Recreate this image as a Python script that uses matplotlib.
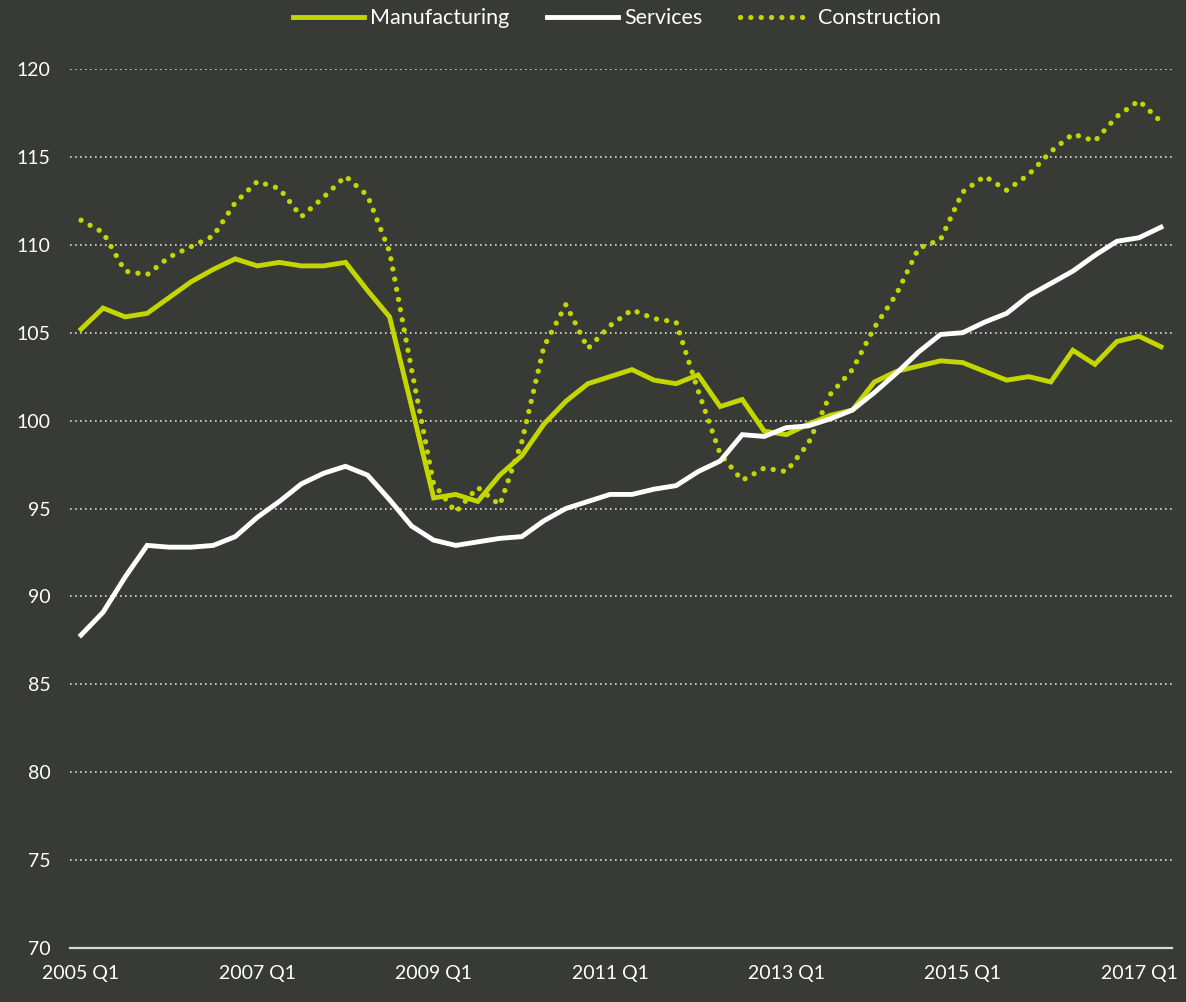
import matplotlib
matplotlib.use('Agg')

import matplotlib.pyplot as plt

# === Data: quarterly index values, 2005 Q1 - 2017 Q2 ===
quarters = [f"{y} Q{q}" for y in range(2005, 2018) for q in range(1, 5)][:50]

manufacturing = [
    105.2, 106.4, 105.9, 106.1, 107.0, 107.9, 108.6, 109.2, 108.8, 109.0,
    108.8, 108.8, 109.0, 107.4, 105.9, 100.8, 95.6, 95.8, 95.4, 96.9,
    98.0, 99.8, 101.1, 102.1, 102.5, 102.9, 102.3, 102.1, 102.6, 100.8,
    101.2, 99.4, 99.2, 99.8, 100.3, 100.6, 102.2, 102.8, 103.1, 103.4,
    103.3, 102.8, 102.3, 102.5, 102.2, 104.0, 103.2, 104.5, 104.8, 104.2,
]

services = [
    87.8, 89.1, 91.1, 92.9, 92.8, 92.8, 92.9, 93.4, 94.5, 95.4,
    96.4, 97.0, 97.4, 96.9, 95.5, 94.0, 93.2, 92.9, 93.1, 93.3,
    93.4, 94.3, 95.0, 95.4, 95.8, 95.8, 96.1, 96.3, 97.1, 97.7,
    99.2, 99.1, 99.6, 99.7, 100.1, 100.6, 101.6, 102.7, 103.9, 104.9,
    105.0, 105.6, 106.1, 107.1, 107.8, 108.5, 109.4, 110.2, 110.4, 111.0,
]

construction = [
    111.4, 110.7, 108.5, 108.3, 109.3, 109.9, 110.5, 112.4, 113.6, 113.2,
    111.6, 112.7, 113.9, 112.8, 109.6, 102.9, 96.4, 94.8, 96.2, 95.2,
    98.8, 104.2, 106.6, 104.1, 105.4, 106.3, 105.8, 105.6, 101.7, 98.1,
    96.6, 97.3, 97.1, 98.7, 101.5, 102.9, 105.3, 107.2, 109.8, 110.3,
    113.0, 113.9, 113.1, 114.0, 115.3, 116.3, 115.9, 117.3, 118.2, 117.0,
]

tick_every = 8

# === Style ===
bg = "#383a35"
lime = "#c4d600"
white = "#ffffff"
grey = "#d9d9d9"

plt.rcParams['font.family'] = ['Lato', 'DejaVu Sans']
plt.rcParams['font.size'] = 14

fig = plt.figure(figsize=(11.86, 10.02), dpi=100, facecolor=bg)
ax = fig.add_axes([70 / 1186, 1 - 948 / 1002, 1102 / 1186, (948 - 69) / 1002])
ax.set_facecolor(bg)

x = list(range(len(quarters)))
ax.plot(x, manufacturing, color=lime, lw=3.5, label="Manufacturing",
        solid_joinstyle='miter', zorder=3)
ax.plot(x, services, color=white, lw=3.5, label="Services",
        solid_joinstyle='miter', zorder=4)
ax.plot(x, construction, color=lime, lw=3.8, label="Construction",
        linestyle=(0, (0.01, 1.95)), dash_capstyle='round', zorder=2)

ax.set_xlim(-0.5, len(quarters) - 0.5)
ax.set_ylim(70, 120)
ax.set_yticks(range(70, 121, 5))
ax.set_xticks(x[::tick_every])
ax.set_xticklabels(quarters[::tick_every])

# dotted gridlines, solid baseline
ax.yaxis.grid(True, color=grey, linestyle=(0, (1, 2)), lw=1.2)
ax.set_axisbelow(True)
for s in ["top", "right", "left"]:
    ax.spines[s].set_visible(False)
ax.spines["bottom"].set_color(grey)
ax.spines["bottom"].set_linewidth(1.6)
ax.spines["bottom"].set_zorder(5)

ax.tick_params(axis='both', length=0, colors=white, labelsize=14)
ax.tick_params(axis='y', pad=14)
ax.tick_params(axis='x', pad=12)

fig.legend(loc='center', bbox_to_anchor=(0.52, 0.982), ncol=3, frameon=False,
           handlelength=3.3, handletextpad=0.3, columnspacing=1.75,
           labelcolor=white, fontsize=15.5)

plt.savefig("out.png", facecolor=bg)
